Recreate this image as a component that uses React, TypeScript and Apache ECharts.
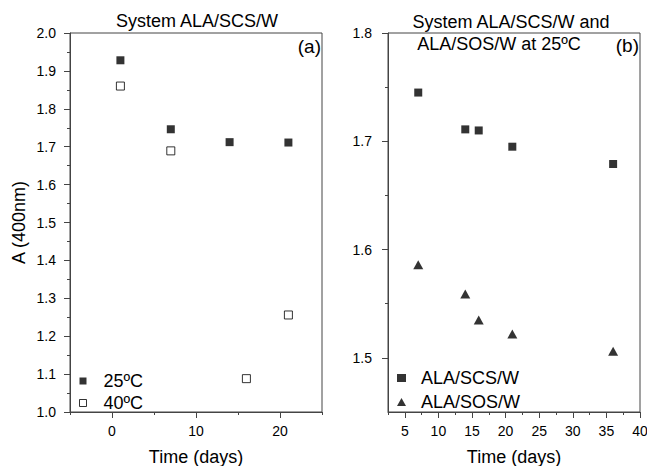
import React, { useEffect, useRef } from "react";
import * as echarts from "echarts";

// Panel (a): System ALA/SCS/W
const daysA25 = [1, 7, 14, 21];
const absA25 = [1.928, 1.746, 1.712, 1.711];
const daysA40 = [1, 7, 16, 21];
const absA40 = [1.86, 1.689, 1.088, 1.256];

// Panel (b): ALA/SCS/W and ALA/SOS/W at 25ºC
const daysB = [7, 14, 16, 21, 36];
const absSCS = [1.745, 1.711, 1.71, 1.695, 1.679];
const absSOS = [1.586, 1.559, 1.535, 1.522, 1.506];

// Tick values
const xMajorA = [0, 10, 20];
const xMinorA = [-5, 5, 15, 25];
const xMajorB = [5, 10, 15, 20, 25, 30, 35, 40];
const xMinorB = [2.5, 7.5, 12.5, 17.5, 22.5, 27.5, 32.5, 37.5];
const yMajorB = [1.5, 1.6, 1.7, 1.8];
const yMinorB = [1.55, 1.65, 1.75];

const FONT = "Liberation Sans, Arial, sans-serif";
const AXIS_COLOR = "#444";

const zip = (xs: number[], ys: number[]) => xs.map((x, i) => [x, ys[i]]);

export default function App() {
  const ref = useRef<HTMLDivElement>(null);
  useEffect(() => {
    if (!ref.current) return;
    const chart = echarts.init(ref.current, null, { renderer: "svg" });
    const axisLine = { show: true, onZero: false, lineStyle: { color: AXIS_COLOR, width: 1 } };
    const label = { color: "#000", fontSize: 14, fontFamily: FONT };
    const nameStyle = { color: "#000", fontSize: 18, fontFamily: FONT };
    const minorAxisX = (grid: number, min: number, max: number, vals: number[]) => ({
      type: "value",
      gridIndex: grid,
      position: "bottom",
      min,
      max,
      axisLine: { show: false, onZero: false },
      axisTick: { show: true, length: 3, customValues: vals, lineStyle: { color: AXIS_COLOR } },
      axisLabel: { show: false, customValues: vals },
      splitLine: { show: false },
    });
    const option: any = {
      animation: false,
      backgroundColor: "#fff",
      textStyle: { fontFamily: FONT },
      grid: [
        { left: 70, top: 33, width: 252, height: 379, outerBoundsMode: "none", containLabel: false, show: true, borderColor: AXIS_COLOR, borderWidth: 1, backgroundColor: "transparent" },
        { left: 388, top: 33, width: 252, height: 379, outerBoundsMode: "none", containLabel: false, show: true, borderColor: AXIS_COLOR, borderWidth: 1, backgroundColor: "transparent" },
      ],
      xAxis: [
        {
          type: "value",
          gridIndex: 0,
          position: "bottom",
          min: -5,
          max: 25,
          axisLine,
          axisTick: { show: true, length: 6, customValues: xMajorA, lineStyle: { color: AXIS_COLOR } },
          axisLabel: { ...label, margin: 12, customValues: xMajorA },
          splitLine: { show: false },
          name: "Time (days)",
          nameLocation: "middle",
          nameGap: 36,
          nameTextStyle: nameStyle,
        },
        minorAxisX(0, -5, 25, xMinorA),
        {
          type: "value",
          gridIndex: 1,
          position: "bottom",
          min: 2.5,
          max: 40,
          axisLine,
          axisTick: { show: true, length: 6, customValues: xMajorB, lineStyle: { color: AXIS_COLOR } },
          axisLabel: { ...label, margin: 12, customValues: xMajorB },
          splitLine: { show: false },
          name: "Time (days)",
          nameLocation: "middle",
          nameGap: 36,
          nameTextStyle: nameStyle,
        },
        minorAxisX(1, 2.5, 40, xMinorB),
      ],
      yAxis: [
        {
          type: "value",
          gridIndex: 0,
          position: "left",
          min: 1,
          max: 2,
          interval: 0.1,
          axisLine,
          axisTick: { show: true, length: 6, lineStyle: { color: AXIS_COLOR } },
          minorTick: { show: true, splitNumber: 2, length: 3, lineStyle: { color: AXIS_COLOR } },
          axisLabel: { ...label, margin: 14, formatter: (v: number) => v.toFixed(1) },
          splitLine: { show: false },
          name: "A (400nm)",
          nameLocation: "middle",
          nameGap: 42,
          nameRotate: 90,
          nameTextStyle: nameStyle,
        },
        {
          type: "value",
          gridIndex: 1,
          position: "left",
          min: 1.45,
          max: 1.8,
          axisLine,
          axisTick: { show: true, length: 6, customValues: yMajorB, lineStyle: { color: AXIS_COLOR } },
          axisLabel: { ...label, margin: 16, customValues: yMajorB, formatter: (v: number) => v.toFixed(1) },
          splitLine: { show: false },
        },
        {
          type: "value",
          gridIndex: 1,
          position: "left",
          min: 1.45,
          max: 1.8,
          axisLine: { show: false, onZero: false },
          axisTick: { show: true, length: 3, customValues: yMinorB, lineStyle: { color: AXIS_COLOR } },
          axisLabel: { show: false, customValues: yMinorB },
          splitLine: { show: false },
        },
      ],
      legend: [
        {
          data: [
            { name: "25ºC", itemStyle: { color: "#000" } },
            { name: "40ºC", itemStyle: { color: "#fff", borderColor: "#000", borderWidth: 1 } },
          ],
          orient: "vertical",
          left: 74,
          top: 367,
          itemWidth: 7,
          itemHeight: 7,
          itemGap: 4,
          selectedMode: false,
          textStyle: { color: "#000", fontSize: 18, fontFamily: FONT, padding: [0, 0, 0, 12] },
        },
        {
          data: [
            { name: "ALA/SCS/W", itemStyle: { color: "#000" } },
            { name: "ALA/SOS/W", itemStyle: { color: "#000" } },
          ],
          orient: "vertical",
          left: 392,
          top: 364,
          itemWidth: 9,
          itemHeight: 8,
          itemGap: 6,
          selectedMode: false,
          textStyle: { color: "#000", fontSize: 18, fontFamily: FONT, padding: [0, 0, 0, 10] },
        },
      ],
      series: [
        { name: "25ºC", type: "scatter", xAxisIndex: 0, yAxisIndex: 0, symbol: "rect", symbolSize: 8, itemStyle: { color: "#000" }, data: zip(daysA25, absA25) },
        { name: "40ºC", type: "scatter", xAxisIndex: 0, yAxisIndex: 0, symbol: "rect", symbolSize: 8, itemStyle: { color: "#fff", borderColor: "#000", borderWidth: 1 }, data: zip(daysA40, absA40) },
        { name: "ALA/SCS/W", type: "scatter", xAxisIndex: 2, yAxisIndex: 1, symbol: "rect", symbolSize: 8, itemStyle: { color: "#000" }, data: zip(daysB, absSCS) },
        { name: "ALA/SOS/W", type: "scatter", xAxisIndex: 2, yAxisIndex: 1, symbol: "triangle", symbolSize: [10, 9], itemStyle: { color: "#000" }, data: zip(daysB, absSOS) },
      ],
      graphic: [
        { type: "text", x: 197, y: 21, style: { text: "System ALA/SCS/W", fill: "#000", font: `18px ${FONT}`, textAlign: "center", textVerticalAlign: "middle" } },
        { type: "text", x: 511, y: 22, style: { text: "System ALA/SCS/W and", fill: "#000", font: `18px ${FONT}`, textAlign: "center", textVerticalAlign: "middle" } },
        { type: "text", x: 499, y: 44, style: { text: "ALA/SOS/W at 25ºC", fill: "#000", font: `18px ${FONT}`, textAlign: "center", textVerticalAlign: "middle" } },
        { type: "text", x: 321, y: 46, style: { text: "(a)", fill: "#000", font: `19px ${FONT}`, textAlign: "right", textVerticalAlign: "middle" } },
        { type: "text", x: 639, y: 45, style: { text: "(b)", fill: "#000", font: `19px ${FONT}`, textAlign: "right", textVerticalAlign: "middle" } },
      ],
    };
    chart.setOption(option);
    return () => chart.dispose();
  }, []);
  return <div ref={ref} style={{ position: "fixed", left: 0, top: 0, width: 647, height: 466 }} />;
}
